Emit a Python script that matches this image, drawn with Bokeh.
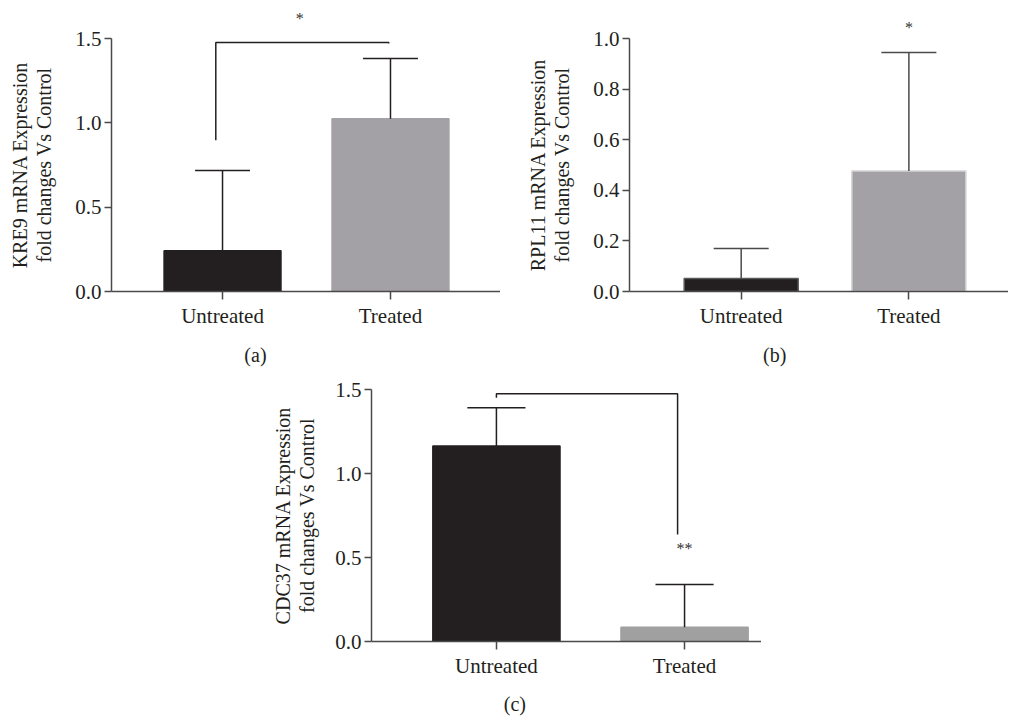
from bokeh.plotting import figure
from bokeh.models import (Range1d, FixedTicker, NumeralTickFormatter, Label,
                          Spacer, ColumnDataSource, LinearAxis)
from bokeh.layouts import column, row
from bokeh.embed import file_html
from bokeh.resources import INLINE

# ---------------- data ----------------
categories = ["Untreated", "Treated"]

kre9_mean = [0.241, 1.024]
kre9_err_top = [0.717, 1.381]

rpl11_mean = [0.051, 0.476]
rpl11_err_top = [0.170, 0.945]

cdc37_mean = [1.163, 0.085]
cdc37_err_top = [1.392, 0.339]

y_ticks_a = [0.0, 0.5, 1.0, 1.5]
y_ticks_b = [0.0, 0.2, 0.4, 0.6, 0.8, 1.0]
y_ticks_c = [0.0, 0.5, 1.0, 1.5]

ylabel_a = "KRE9 mRNA Expression\nfold changes Vs Control"
ylabel_b = "RPL11 mRNA Expression\nfold changes Vs Control"
ylabel_c = "CDC37 mRNA Expression\nfold changes Vs Control"

captions = ["(a)", "(b)", "(c)"]
caption_x = [0.196, 0.20, 0.098]      # caption centre, in category-index units

# significance marks (x in category-index units, y in data units)
bracket_a_x = [-0.04, -0.04, 0.99, 0.99]
bracket_a_y = [0.897, 1.477, 1.477, 1.47]
star_a = ("*", 0.46)

star_b = ("*", 1.0)

bracket_c_x = [0.0, 0.0, 0.963, 0.963]
bracket_c_y = [1.451, 1.475, 1.475, 0.637]
star_c = ("**", 1.0, 0.554)

# ---------------- style ----------------
FONT = "Liberation Serif"
TXT = "#231f20"
AX = "#4a4a4a"
DARK = "#231f20"


def text_axis(p, side, xpos, text, standoff, size, color):
    ax = LinearAxis(ticker=FixedTicker(ticks=[xpos]),
                    major_label_overrides={xpos: text},
                    axis_line_color=None, major_tick_line_color=None,
                    minor_tick_line_color=None, major_tick_in=0, major_tick_out=0,
                    major_label_standoff=standoff, major_label_text_font=FONT,
                    major_label_text_font_size=size, major_label_text_color=color)
    p.add_layout(ax, side)


def make_panel(mean, err_top, yticks, ylabel, *, width, height,
               border_left, border_top, border_bottom, x_start, x_end, y_end,
               bar_w, cap_w, treated_color, line_colors, err_color,
               label_standoff):
    p = figure(width=width, height=height,
               x_range=Range1d(x_start, x_end), y_range=Range1d(0, y_end),
               output_backend="svg", toolbar_location=None, title_location=None,
               min_border_left=border_left, min_border_right=0,
               min_border_top=border_top, min_border_bottom=border_bottom)
    p.outline_line_color = None
    p.xgrid.visible = False
    p.ygrid.visible = False
    p.background_fill_color = "white"
    p.border_fill_color = "white"

    xs = list(range(len(categories)))
    src = ColumnDataSource(dict(
        x=xs, top=mean, err=err_top,
        fill=[DARK, treated_color], line=line_colors,
        cap0=[x - cap_w / 2 for x in xs], cap1=[x + cap_w / 2 for x in xs],
    ))
    p.vbar(x="x", top="top", bottom=0, width=bar_w, fill_color="fill",
           line_color="line", line_width=1.5, source=src)
    p.segment(x0="x", y0="top", x1="x", y1="err", line_color=err_color,
              line_width=1.5, source=src)
    p.segment(x0="cap0", y0="err", x1="cap1", y1="err", line_color=err_color,
              line_width=1.5, source=src)

    ya = p.yaxis[0]
    ya.ticker = FixedTicker(ticks=yticks)
    ya.formatter = NumeralTickFormatter(format="0.0")
    ya.minor_tick_line_color = None
    ya.major_tick_in = 0
    ya.major_tick_out = 7
    ya.major_label_standoff = 3
    ya.axis_label = ylabel
    ya.axis_label_standoff = label_standoff
    ya.axis_label_text_font = FONT
    ya.axis_label_text_font_size = "20px"
    ya.axis_label_text_font_style = "normal"
    ya.axis_label_text_color = TXT
    ya.axis_label_text_line_height = 1.1

    xa = p.xaxis[0]
    xa.ticker = FixedTicker(ticks=xs)
    xa.major_label_overrides = {i: c for i, c in enumerate(categories)}
    xa.minor_tick_line_color = None
    xa.major_tick_in = 0
    xa.major_tick_out = 8
    xa.major_label_standoff = 4

    for ax in (xa, ya):
        ax.axis_line_color = AX
        ax.axis_line_width = 1.5
        ax.major_tick_line_color = AX
        ax.major_tick_line_width = 1.5
        ax.major_label_text_font = FONT
        ax.major_label_text_font_size = "21px"
        ax.major_label_text_color = TXT
    return p


# Panel (a)
pa = make_panel(kre9_mean, kre9_err_top, y_ticks_a, ylabel_a,
                width=500, height=368, border_left=111, border_top=38,
                border_bottom=77, x_start=-0.661, x_end=1.655, y_end=1.5,
                bar_w=0.696, cap_w=0.327,
                treated_color="#a3a1a6", line_colors=[DARK, "#a3a1a6"],
                err_color=DARK, label_standoff=17)
pa.line(bracket_a_x, bracket_a_y, line_color=DARK, line_width=1.5)
text_axis(pa, "above", star_a[1], star_a[0], 12, "16px", "#333333")
text_axis(pa, "below", caption_x[0], captions[0], 13, "20px", TXT)

# Panel (b)
pb = make_panel(rpl11_mean, rpl11_err_top, y_ticks_b, ylabel_b,
                width=508, height=368, border_left=129, border_top=38,
                border_bottom=77, x_start=-0.666, x_end=1.594, y_end=1.0,
                bar_w=0.68, cap_w=0.328,
                treated_color="#a3a1a6", line_colors=["#5a5a5a", "#d4d4d4"],
                err_color="#4a4a4a", label_standoff=17)
text_axis(pb, "above", star_b[1], star_b[0], 3, "16px", "#333333")
text_axis(pb, "below", caption_x[1], captions[1], 13, "20px", TXT)

# Panel (c)
pc = make_panel(cdc37_mean, cdc37_err_top, y_ticks_c, ylabel_c,
                width=499, height=349, border_left=109, border_top=21,
                border_bottom=74, x_start=-0.664, x_end=1.409, y_end=1.5,
                bar_w=0.676, cap_w=0.309,
                treated_color="#a0a0a0", line_colors=[DARK, "#a0a0a0"],
                err_color=DARK, label_standoff=14)
pc.line(bracket_c_x, bracket_c_y, line_color=DARK, line_width=1.5)
pc.add_layout(Label(x=star_c[1], y=star_c[2], text=star_c[0],
                    text_align="center", text_baseline="middle",
                    text_font=FONT, text_font_size="16px", text_color="#333333"))
text_axis(pc, "below", caption_x[2], captions[2], 12, "20px", TXT)

layout = column(row(pa, pb), row(Spacer(width=262, height=349), pc))

open("out.html", "w").write(file_html(layout, INLINE))
